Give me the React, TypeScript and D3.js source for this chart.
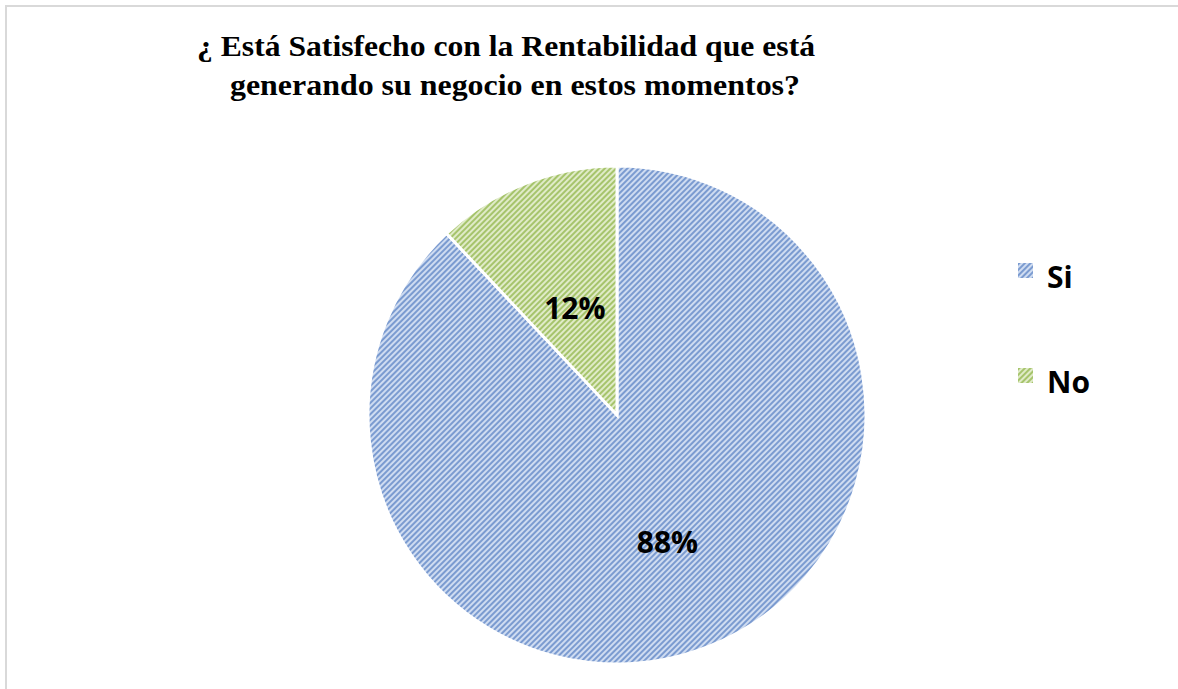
import * as d3 from "d3";

const categories = ["Si", "No"];
const values = [88, 12];
const labels = ["88%", "12%"];
const titleLines = [
  "¿ Está Satisfecho con la Rentabilidad que está",
  "generando su negocio en estos momentos?",
];

const W = 1178;
const H = 689;
const cx = 617;
const cy = 415;
const radius = 249;

const fills = [
  { id: "hatch-si", dark: "#7b9bd0", light: "#cfdcf1" },
  { id: "hatch-no", dark: "#a6c46c", light: "#e0ebc8" },
];

// Excel "best fit" puts the small slice label a bit closer to the centre
const labelRadius = [0.55, 0.46];
const titleWidths = [618, 570];

export default function App() {
  const pie = d3.pie<number>().sort(null).value((d) => d);
  const arcs = pie(values);
  const arc = d3.arc<d3.PieArcDatum<number>>().innerRadius(0).outerRadius(radius);

  return (
    <svg
      width={W}
      height={H}
      style={{ position: "absolute", left: 0, top: 0, background: "#fff" }}
    >
      <defs>
        {fills.map((f) => (
          <pattern
            key={f.id}
            id={f.id}
            width={4}
            height={4}
            patternUnits="userSpaceOnUse"
            patternTransform="rotate(45)"
          >
            <rect width={4} height={4} fill={f.light} />
            <rect width={2} height={4} fill={f.dark} />
          </pattern>
        ))}
      </defs>
      {/* frame: top and left only */}
      <line x1={5} y1={6} x2={W} y2={6} stroke="#d9d9d9" strokeWidth={2} />
      <line x1={6} y1={5} x2={6} y2={H} stroke="#d9d9d9" strokeWidth={2} />

      <g
        style={{ fontFamily: "'Liberation Serif', 'DejaVu Serif', serif" }}
        fontWeight="bold"
        fontSize={29}
        textAnchor="middle"
      >
        {titleLines.map((t, i) => (
          <text
            key={i}
            x={i === 0 ? 506 : 515}
            y={56 + i * 39}
            textLength={titleWidths[i]}
            lengthAdjust="spacingAndGlyphs"
          >
            {t}
          </text>
        ))}
      </g>

      <g transform={`translate(${cx},${cy})`}>
        {arcs.map((a, i) => (
          <path
            key={categories[i]}
            d={arc(a) ?? ""}
            fill={`url(#${fills[i].id})`}
            stroke="#fff"
            strokeWidth={3}
            strokeLinejoin="miter"
          />
        ))}
        {arcs.map((a, i) => {
          const r = radius * labelRadius[i];
          const [x, y] = d3.arc<d3.PieArcDatum<number>>().innerRadius(r).outerRadius(r).centroid(a);
          return (
            <text
              key={labels[i]}
              x={x}
              y={y}
              dy="0.36em"
              textAnchor="middle"
              fontFamily="'Open Sans', 'Liberation Sans', sans-serif"
              fontWeight="bold"
              fontSize={30}
              fill="#000"
            >
              {labels[i]}
            </text>
          );
        })}
      </g>

      <g fontFamily="'Open Sans', 'Liberation Sans', sans-serif" fontWeight="bold" fontSize={30}>
        {categories.map((c, i) => (
          <g key={c} transform={`translate(1018,${263 + i * 105})`}>
            <rect width={15} height={15} fill={`url(#${fills[i].id})`} />
            <text x={29} y={25} fill="#000">
              {c}
            </text>
          </g>
        ))}
      </g>
    </svg>
  );
}
